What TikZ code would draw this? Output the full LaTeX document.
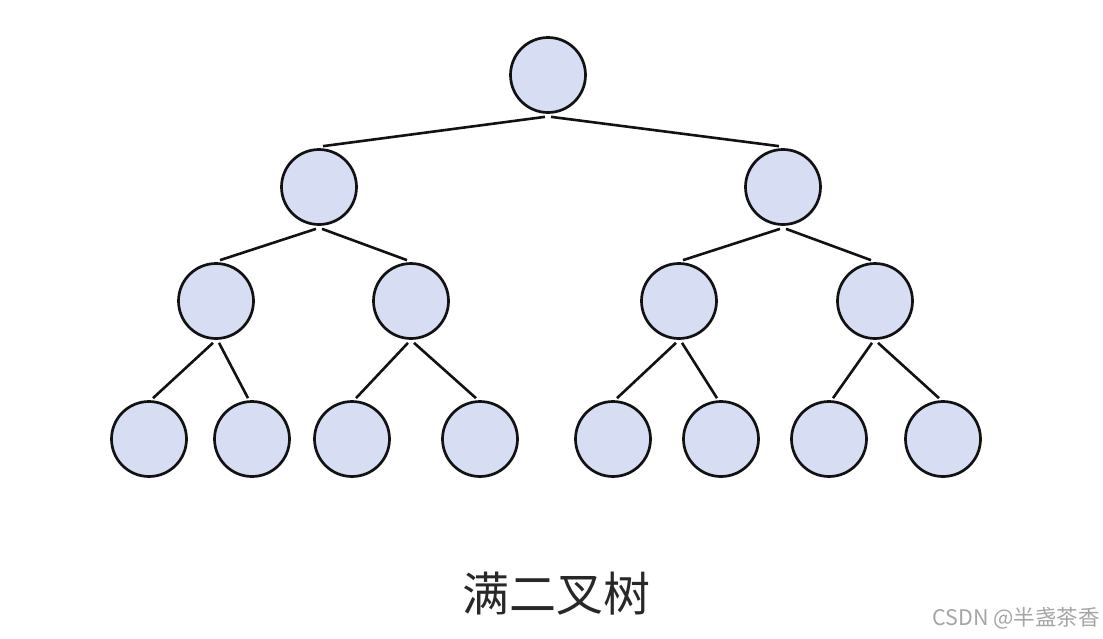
\documentclass[tikz,border=0pt]{standalone}
\usepackage{fontspec}
\newfontfamily\cjk{Noto Sans CJK SC}
\definecolor{nodefill}{RGB}{215,221,243}
\definecolor{nodeline}{RGB}{18,18,18}
\definecolor{titlecol}{RGB}{40,40,40}
\definecolor{markcol}{RGB}{165,165,165}
\tikzset{
  tn/.style={circle, draw=nodeline, fill=nodefill, line width=2.7pt, minimum size=75pt, inner sep=0pt},
  edge/.style={draw=nodeline, line width=2.6pt}
}
\newcommand\treeedge[3]{%
  \draw[edge] ([shift={(#3*3,3)}]#1.south) -- ([shift={(-#3*4,-2)}]#2.north);}
\begin{document}
\begin{tikzpicture}[x=1pt,y=-1pt]
\useasboundingbox (0,0) rectangle (1103,638);
% level 1
\node[tn] (r) at (548,75) {};
% level 2
\node[tn] (a) at (319,187) {};
\node[tn] (b) at (783,187) {};
% level 3
\node[tn] (aa) at (216,301) {};
\node[tn] (ab) at (411,301) {};
\node[tn] (ba) at (679,301) {};
\node[tn] (bb) at (875,301) {};
% level 4
\node[tn] (aaa) at (149,439) {};
\node[tn] (aab) at (252,439) {};
\node[tn] (aba) at (352,439) {};
\node[tn] (abb) at (480,439) {};
\node[tn] (baa) at (613,439) {};
\node[tn] (bab) at (721,439) {};
\node[tn] (bba) at (829,439) {};
\node[tn] (bbb) at (943,439) {};
% edges
\treeedge{r}{a}{-1}
\treeedge{r}{b}{1}
\treeedge{a}{aa}{-1}
\treeedge{a}{ab}{1}
\treeedge{b}{ba}{-1}
\treeedge{b}{bb}{1}
\treeedge{aa}{aaa}{-1}
\treeedge{aa}{aab}{1}
\treeedge{ab}{aba}{-1}
\treeedge{ab}{abb}{1}
\treeedge{ba}{baa}{-1}
\treeedge{ba}{bab}{1}
\treeedge{bb}{bba}{-1}
\treeedge{bb}{bbb}{1}
% texts
\node[text=titlecol, font=\cjk\fontsize{47}{52}\selectfont, inner sep=0pt] (title) at (556,594) {满二叉树};
\node[text=markcol, font=\cjk\fontsize{21.5}{24}\selectfont, anchor=east, inner sep=0pt] (mark) at (1100,618) {CSDN @半盏茶香};
\end{tikzpicture}
\end{document}
